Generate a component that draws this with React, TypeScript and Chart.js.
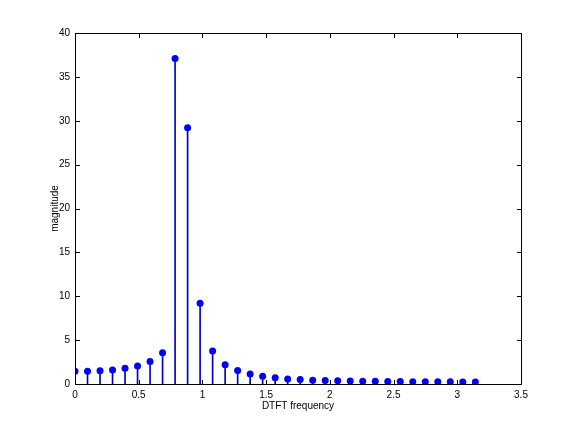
import React, { useEffect, useRef } from "react";
import { Chart, registerables } from "chart.js";

Chart.register(...registerables);

const frequencies = [
  0, 0.0982, 0.1963, 0.2945, 0.3927, 0.4909, 0.589, 0.6872, 0.7854, 0.8836,
  0.9817, 1.0799, 1.1781, 1.2763, 1.3744, 1.4726, 1.5708, 1.669, 1.7671,
  1.8653, 1.9635, 2.0617, 2.1598, 2.258, 2.3562, 2.4544, 2.5525, 2.6507,
  2.7489, 2.8471, 2.9452, 3.0434, 3.1416,
];

const magnitudes = [
  1.45, 1.45, 1.5, 1.6, 1.8, 2.05, 2.55, 3.55, 37.1, 29.2, 9.2, 3.75, 2.2,
  1.55, 1.15, 0.88, 0.7, 0.58, 0.5, 0.44, 0.4, 0.37, 0.34, 0.32, 0.3, 0.29,
  0.28, 0.27, 0.26, 0.25, 0.25, 0.24, 0.24,
];

const xTitle = "DTFT frequency";
const yTitle = "magnitude";

const FONT = "'Liberation Sans', Arial, Helvetica, sans-serif";

const boxPlugin = {
  id: "matlabBox",
  afterDraw(chart: any) {
    const { ctx, chartArea } = chart;
    const { left, right, top, bottom } = chartArea;
    const xs = chart.scales.x;
    const ys = chart.scales.y;
    ctx.save();
    ctx.strokeStyle = "#000";
    ctx.lineWidth = 1;
    const L = Math.round(left) + 0.5;
    const R = Math.round(right) + 0.5;
    const T = Math.round(top) + 0.5;
    const B = Math.round(bottom) + 0.5;
    ctx.beginPath();
    ctx.rect(L, T, R - L, B - T);
    ctx.stroke();
    const tl = 4.5;
    ctx.beginPath();
    xs.ticks.forEach((t: any) => {
      const px = Math.round(xs.getPixelForValue(t.value)) + 0.5;
      ctx.moveTo(px, B);
      ctx.lineTo(px, B - tl);
      ctx.moveTo(px, T);
      ctx.lineTo(px, T + tl);
    });
    ys.ticks.forEach((t: any) => {
      const py = Math.round(ys.getPixelForValue(t.value)) + 0.5;
      ctx.moveTo(L, py);
      ctx.lineTo(L + tl, py);
      ctx.moveTo(R, py);
      ctx.lineTo(R - tl, py);
    });
    ctx.stroke();
    ctx.restore();
  },
};

export default function App() {
  const ref = useRef<HTMLCanvasElement | null>(null);

  useEffect(() => {
    if (!ref.current) return;
    const points = frequencies.map((f, i) => ({ x: f, y: magnitudes[i] }));
    const chart = new Chart(ref.current, {
      type: "scatter",
      data: {
        datasets: [
          {
            type: "scatter",
            data: points,
            backgroundColor: "#0000ff",
            borderColor: "#0000ff",
            pointRadius: 3.5,
            pointStyle: "circle",
            borderWidth: 0,
            order: 0,
          } as any,
          {
            type: "bar",
            data: points,
            backgroundColor: "#0000cc",
            borderWidth: 0,
            barThickness: 1,
            order: 1,
          } as any,
        ],
      },
      options: {
        responsive: false,
        animation: false,
        events: [],
        layout: {
          autoPadding: false,
          padding: { top: 33, right: 55, left: 0, bottom: 0 },
        },
        plugins: {
          legend: { display: false },
          tooltip: { enabled: false },
        },
        scales: {
          x: {
            type: "linear",
            min: 0,
            max: 3.5,
            offset: false,
            grid: { display: false, drawTicks: false },
            border: { display: false },
            ticks: {
              stepSize: 0.5,
              color: "#000",
              padding: 5,
              maxRotation: 0,
              font: { family: FONT, size: 10 },
              callback: (v: any) => String(Number(v)),
            },
            title: {
              display: true,
              text: xTitle,
              color: "#000",
              font: { family: FONT, size: 10 },
              padding: { top: 0, bottom: 20 },
            },
            afterFit: (s: any) => {
              s.height = 48;
            },
          },
          y: {
            type: "linear",
            min: 0,
            max: 40,
            grid: { display: false, drawTicks: false },
            border: { display: false },
            ticks: {
              stepSize: 5,
              color: "#000",
              padding: 5,
              font: { family: FONT, size: 10 },
              callback: (v: any) => String(Number(v)),
            },
            title: {
              display: true,
              text: yTitle,
              color: "#000",
              font: { family: FONT, size: 10 },
              padding: { top: 49, bottom: 0 },
            },
            afterFit: (s: any) => {
              s.width = 75;
            },
          },
        },
      } as any,
      plugins: [boxPlugin],
    });
    return () => chart.destroy();
  }, []);

  return (
    <div
      style={{
        position: "absolute",
        left: 0,
        top: 0,
        width: 576,
        height: 432,
        background: "#fff",
      }}
    >
      <canvas ref={ref} width={576} height={432} style={{ display: "block" }} />
    </div>
  );
}
